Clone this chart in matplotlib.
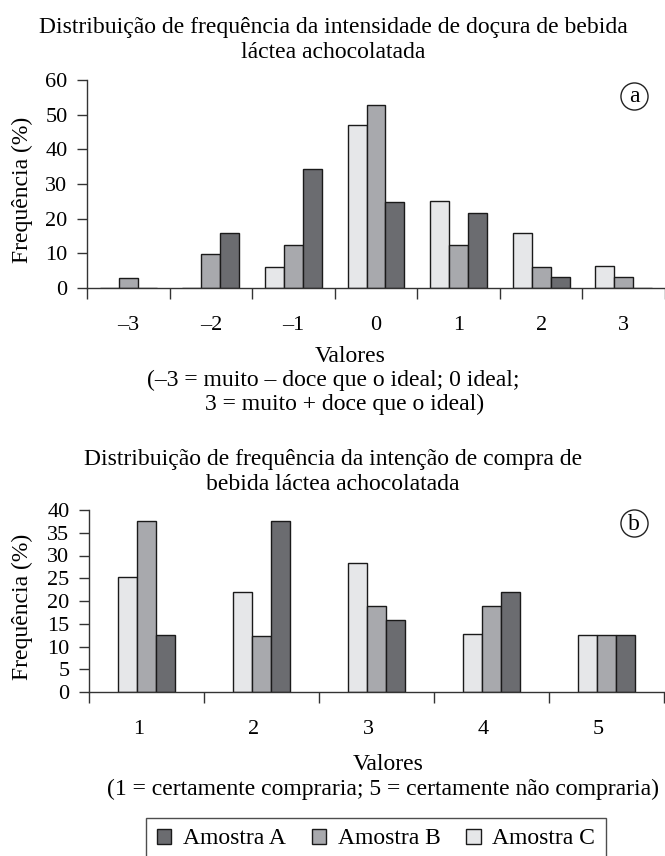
import numpy as np
import matplotlib
matplotlib.use("Agg")
import matplotlib.pyplot as plt
from matplotlib.patches import Patch

plt.rcParams['font.family'] = ['Liberation Serif', 'DejaVu Serif']

# -----------------------------
# DATA
# -----------------------------
doce_labels = ["–3", "–2", "–1", "0", "1", "2", "3"]
doce_A = [0, 15.8, 34.2, 24.9, 21.6, 3.1, 0]
doce_B = [3.0, 9.7, 12.5, 52.7, 12.3, 6.1, 3.1]
doce_C = [0, 0, 6.2, 47.1, 25.1, 15.8, 6.3]

compra_labels = ["1", "2", "3", "4", "5"]
compra_A = [12.5, 37.6, 15.8, 21.9, 12.5]
compra_B = [37.6, 12.4, 18.9, 18.9, 12.5]
compra_C = [25.2, 22.0, 28.4, 12.7, 12.5]

COL_A = "#6b6c70"
COL_B = "#a8a9ad"
COL_C = "#e6e7e9"
EDGE = "#1a1a1a"
FS = 17
TFS = 16

W, H = 665, 856
fig = plt.figure(figsize=(W / 100, H / 100), dpi=100)


def px_axes(left, right, top, bottom):
    return fig.add_axes([left / W, 1 - bottom / H, (right - left) / W, (bottom - top) / H])


def ftext(x, y, s, **kw):
    fig.text(x / W, 1 - y / H, s, ha="center", va="center", fontsize=FS, **kw)


def bar_panel(ax, labels, A, B, C, width, ymax, ystep, letter, lab_shift, letter_xy):
    x = np.arange(len(labels))
    for off, vals, col in ((-width, C, COL_C), (0, B, COL_B), (width, A, COL_A)):
        ax.bar(x + off, vals, width, color=col, edgecolor=EDGE, linewidth=1.0, zorder=2)
    ax.set_xlim(-0.5, len(labels) - 0.5)
    ax.set_ylim(0, ymax)
    ax.set_xticks(x + lab_shift)
    ax.set_xticklabels(labels, fontsize=TFS)
    ax.set_xticks(np.arange(len(labels) + 1) - 0.5, minor=True)
    ax.tick_params(axis="x", which="major", length=0, pad=20)
    ax.tick_params(axis="x", which="minor", length=8, width=1.0, color="#333333")
    ax.set_yticks(np.arange(0, ymax + 1, ystep))
    ax.tick_params(axis="y", length=7, width=1.0, color="#333333", labelsize=TFS, pad=7)
    for s in ("top", "right"):
        ax.spines[s].set_visible(False)
    for s in ("left", "bottom"):
        ax.spines[s].set_color("#333333")
        ax.spines[s].set_linewidth(1.0)
    ax.spines["left"].set_bounds(0, ymax)
    ax.set_ylabel("Frequência (%)", fontsize=FS)
    # circled panel letter, placed in pixels
    lx, ly = letter_xy
    fig.text(lx / W, 1 - (ly + 1) / H, letter, ha="center", va="center", fontsize=FS)
    fig.lines.append(plt.Line2D([lx / W], [1 - ly / H], transform=fig.transFigure,
                                marker="o", markersize=19.5, markerfacecolor="none",
                                markeredgecolor="#222222", markeredgewidth=1.0))


# -----------------------------
# TOP PANEL (a)
# -----------------------------
ax1 = px_axes(87, 665, 80, 288)
bar_panel(ax1, doce_labels, doce_A, doce_B, doce_C, 0.23, 60, 10, "a", 0.0, (634, 96))
ax1.yaxis.set_label_coords((33 - 87) / 578, (288 - 190) / 208)
ftext(333, 28, "Distribuição de frequência da intensidade de doçura de bebida")
ftext(333, 52, "láctea achocolatada")
ftext(350, 356, "Valores")
ftext(333, 380, "(–3 = muito – doce que o ideal; 0 ideal;")
ftext(345, 404, "3 = muito + doce que o ideal)")

# -----------------------------
# BOTTOM PANEL (b)
# -----------------------------
ax2 = px_axes(89, 664, 510, 692)
bar_panel(ax2, compra_labels, compra_A, compra_B, compra_C, 0.165, 40, 5, "b", -0.07, (634, 523))
ax2.yaxis.set_label_coords((33 - 89) / 575, (692 - 607) / 182)
ftext(333, 460, "Distribuição de frequência da intenção de compra de")
ftext(333, 484, "bebida láctea achocolatada")
ftext(388, 764, "Valores")
ftext(383, 789, "(1 = certamente compraria; 5 = certamente não compraria)")

# -----------------------------
# LEGEND
# -----------------------------
handles = [Patch(facecolor=c, edgecolor=EDGE, linewidth=1.0) for c in (COL_A, COL_B, COL_C)]
leg = fig.legend(handles, ["Amostra A", "Amostra B", "Amostra C"], ncol=3,
                 loc="center", bbox_to_anchor=(376 / W, 1 - 839 / H),
                 fontsize=FS, frameon=True, fancybox=False,
                 handlelength=0.6, handleheight=0.6, handletextpad=0.5,
                 columnspacing=1.1, borderpad=0.45, borderaxespad=0)
leg.get_frame().set_edgecolor("#222222")
leg.get_frame().set_linewidth(1.0)

fig.savefig("out.png", dpi=100)
